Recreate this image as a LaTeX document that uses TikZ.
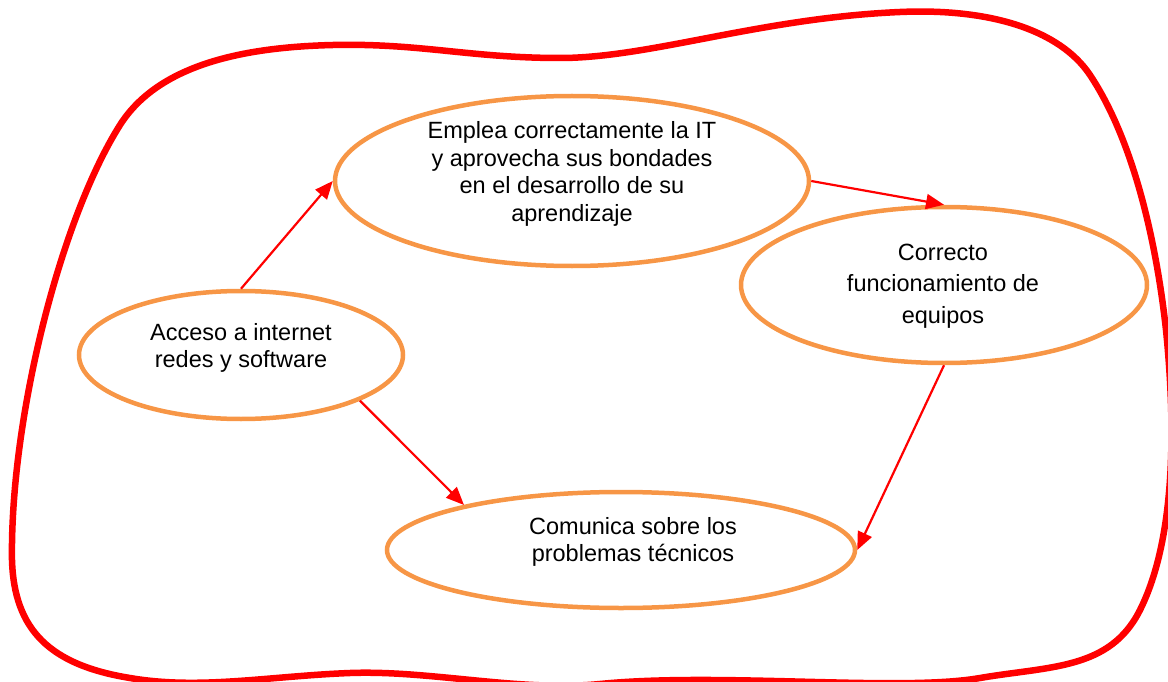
\documentclass[tikz,border=0pt]{standalone}
\usepackage{fontspec}
\setmainfont{Liberation Sans}
\usetikzlibrary{arrows.meta,shapes.geometric}
\definecolor{ovalorange}{HTML}{F79646}
\definecolor{linkred}{HTML}{FF0000}
\begin{document}
\begin{tikzpicture}[x=1pt,y=-1pt,
  oval/.style n args={2}{ellipse, draw=ovalorange, line width=4.5pt, inner sep=0pt,
    minimum width=#1pt, minimum height=#2pt},
  txt/.style={align=center, inner sep=0pt, font=\fontsize{23.5}{27.5}\selectfont},
  link/.style={draw=linkred, line width=2.2pt, -{Triangle[length=18pt,width=15pt]}},
  frame/.style={draw=linkred, line width=6.5pt}
]
\useasboundingbox (0,0) rectangle (1168,682);
\clip (0,0) rectangle (1168,682);

% enclosing freehand outline
\draw[frame] (333,45)
  .. controls (420,43) and (470,58) .. (560,58)
  .. controls (650,58) and (760,18) .. (900,12)
  .. controls (990,8) and (1060,30) .. (1090,75)
  .. controls (1130,135) and (1155,230) .. (1166,330)
  .. controls (1176,430) and (1175,540) .. (1140,610)
  .. controls (1110,670) and (1050,666) .. (980,678)
  .. controls (900,692) and (720,672) .. (600,684)
  .. controls (520,692) and (430,670) .. (350,673)
  .. controls (270,676) and (200,690) .. (130,678)
  .. controls (50,665) and (14,630) .. (12,560)
  .. controls (10,420) and (60,220) .. (120,125)
  .. controls (160,62) and (250,47) .. (333,45) -- cycle;

% ellipses
\node[oval={324}{128}] (acc) at (241,355) {};
\node[oval={474}{170}] (emp) at (572,181) {};
\node[oval={406}{156}] (cor) at (944,285) {};
\node[oval={468}{116}] (com) at (621,550) {};

% labels
\node[txt] (acct) at (241,348) {Acceso a internet\\redes y software};
\node[txt] (empt) at (572,174) {Emplea correctamente la IT\\y aprovecha sus bondades\\en el desarrollo de su\\aprendizaje};
\node[txt, font=\fontsize{23.5}{31.5}\selectfont] (cort) at (943,286) {Correcto\\funcionamiento de\\equipos};
\node[txt] (comt) at (633,542) {Comunica sobre los\\problemas técnicos};

% connectors
\draw[link] (acc.north) -- (emp.west);
\draw[link] (emp.east) -- (cor.north);
\draw[link] (acc.-21) -- (com.164);
\draw[link] (cor.south) -- (com.east);
\end{tikzpicture}
\end{document}
